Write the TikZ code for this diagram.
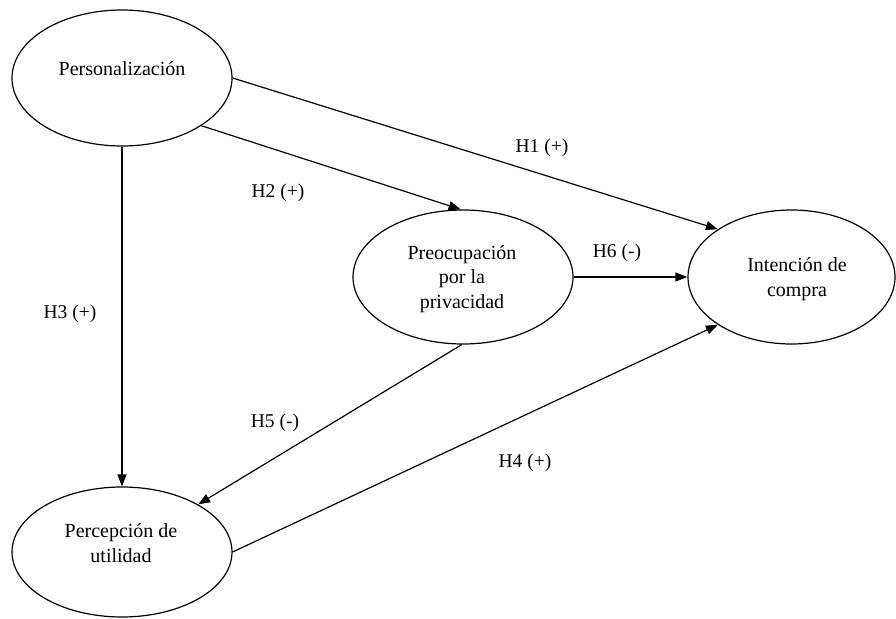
\documentclass[tikz,border=0pt]{standalone}
\usepackage{fontspec}
\setmainfont{Liberation Serif}
\usetikzlibrary{shapes.geometric,arrows.meta}
\begin{document}
\begin{tikzpicture}[x=1pt,y=-1pt,
  construct/.style={ellipse,draw,line width=1.2pt,inner sep=0pt},
  lbl/.style={font=\fontsize{20}{24.5}\selectfont,align=center,inner sep=0pt},
  hyp/.style={font=\fontsize{19.5}{24}\selectfont,inner sep=0pt},
  conn/.style={line width=1.2pt,-{Triangle[length=12pt,width=9pt]}}]
\useasboundingbox (0,0) rectangle (896,618);
% constructs
\node[construct,minimum width=220pt,minimum height=136pt] (P) at (122,78) {};
\node[construct,minimum width=220pt,minimum height=134pt] (Q) at (463,277) {};
\node[construct,minimum width=207pt,minimum height=134pt] (I) at (791.5,277) {};
\node[construct,minimum width=220pt,minimum height=130pt] (R) at (122,552) {};
% texts
\node[lbl] (Pt) at (122,69) {Personalización};
\node[lbl] (Qt) at (462,279) {Preocupación\\por la\\privacidad};
\node[lbl] (It) at (797,279) {Intención de\\compra};
\node[lbl] (Rt) at (121,543) {Percepción de\\utilidad};
% connectors
\draw[conn] (P.east) -- (I.147.4);
\draw[conn] (P.-31.5) -- (Q.92);
\draw[conn] (P.south) -- (R.north);
\draw[conn] (Q.east) -- (I.west);
\draw[conn] (Q.-91) -- (R.32);
\draw[conn] (R.east) -- (I.213.7);
% hypothesis labels
\node[hyp] (h1) at (542,148) {H1 (+)};
\node[hyp] (h2) at (278,193) {H2 (+)};
\node[hyp] (h3) at (70,314) {H3 (+)};
\node[hyp] (h4) at (525,463) {H4 (+)};
\node[hyp] (h5) at (275,423) {H5 (-)};
\node[hyp] (h6) at (617,253) {H6 (-)};
\end{tikzpicture}
\end{document}
